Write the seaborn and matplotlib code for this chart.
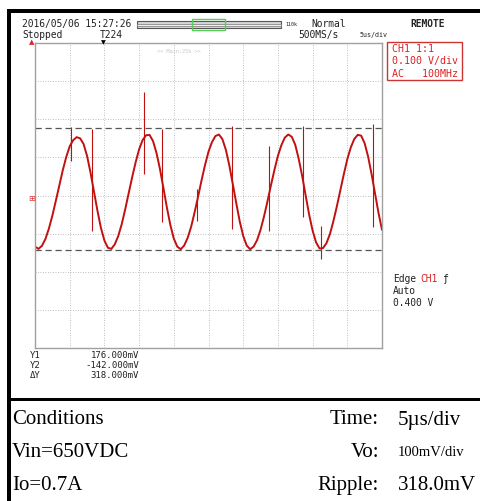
import numpy as np
import pandas as pd
import matplotlib
matplotlib.use('Agg')
import matplotlib.pyplot as plt
import seaborn as sns
from matplotlib.patches import Rectangle

# 示波器截图：输出纹波波形
sns.set_theme(style='white')
plt.rcParams['font.family'] = ['DejaVu Sans']

# 采样时间 (us) 与电压 (mV)，从截图上读出
t_us = [0.0, 0.5, 1.0, 1.5, 2.0, 2.5, 3.0, 3.5, 4.0, 4.5,
        5.0, 5.5, 6.0, 6.5, 7.0, 7.5, 8.0, 8.5, 9.0, 9.5,
        10.0, 10.5, 11.0, 11.5, 12.0, 12.5, 13.0, 13.5, 14.0, 14.5,
        15.0, 15.5, 16.0, 16.5, 17.0, 17.5, 18.0, 18.5, 19.0, 19.5,
        20.0, 20.5, 21.0, 21.5, 22.0, 22.5, 23.0, 23.5, 24.0, 24.5,
        25.0, 25.5, 26.0, 26.5, 27.0, 27.5, 28.0, 28.5, 29.0, 29.5,
        30.0, 30.5, 31.0, 31.5, 32.0, 32.5, 33.0, 33.5, 34.0, 34.5,
        35.0, 35.5, 36.0, 36.5, 37.0, 37.5, 38.0, 38.5, 39.0, 39.5,
        40.0, 40.5, 41.0, 41.5, 42.0, 42.5, 43.0, 43.5, 44.0, 44.5,
        45.0, 45.5, 46.0, 46.5, 47.0, 47.5, 48.0, 48.5, 49.0, 49.5,
        50.0]
v_mv = [-134, -140, -132, -114, -87, -53, -14, 26, 66, 101,
        129, 145, 153, 150, 135, 104, 60, 10, -40, -85,
        -118, -137, -140, -128, -106, -75, -36, 6, 48, 87,
        121, 145, 158, 159, 143, 112, 70, 20, -31, -77,
        -113, -134, -141, -131, -111, -82, -44, -3, 40, 80,
        115, 140, 156, 160, 148, 120, 79, 30, -20, -68,
        -106, -131, -141, -134, -117, -90, -55, -15, 27, 67,
        104, 132, 152, 160, 154, 133, 96, 51, 0, -50,
        -92, -123, -139, -138, -125, -101, -67, -28, 14, 56,
        95, 126, 148, 159, 157, 137, 102, 56, 5, -46,
        -90]

# 开关尖峰
spike_t = [5.2, 8.2, 15.7, 18.3, 23.3, 28.4, 33.7, 38.6, 41.2, 48.7]
spike_hi = [180, 175, 272, 175, 17, 182, 130, 182, -80, 188]
spike_lo = [90, -93, 56, -70, -67, -88, -93, -56, -167, -83]

# 光标
y1_mv = 176
y2_mv = -142
cursor_labels = ['Y1', 'Y2', 'ΔY']
cursor_values = ['176.000mV', '-142.000mV', '318.000mV']

# 底部条件表
cond_left = ['Conditions', 'Vin=650VDC', 'Io=0.7A']
cond_keys = ['Time:', 'Vo:', 'Ripple:']
cond_vals = ['5µs/div', '100mV/div', '318.0mV']

W, H = 480, 502
def fx(px):
    return px / W
def fy(py):
    return 1 - py / H

fig = plt.figure(figsize=(4.8, 5.02), dpi=100)
fig.patch.set_facecolor('white')

# 波形区
ax = fig.add_axes([fx(35), fy(349), (382 - 35) / W, (349 - 44) / H])
df = pd.DataFrame({'t': t_us, 'v': v_mv})
sns.lineplot(data=df, x='t', y='v', ax=ax, color='#c01010', lw=1.4)
ax.vlines(spike_t, spike_lo, spike_hi, color='#c01010', lw=0.8)
ax.axhline(y1_mv, color='#555555', ls=(0, (5, 3)), lw=0.9)
ax.axhline(y2_mv, color='#555555', ls=(0, (5, 3)), lw=0.9)
ax.set_xlim(0, 50)
ax.set_ylim(-400, 400)
ax.set_xticks(np.arange(0, 51, 5))
ax.set_yticks(np.arange(-400, 401, 100))
ax.grid(True, color='#a8a8a8', ls=(0, (1, 2)), lw=0.6)
ax.tick_params(length=0, labelleft=False, labelbottom=False)
ax.set_xlabel('')
ax.set_ylabel('')
for s in ax.spines.values():
    s.set_color('#a0a0a0')
    s.set_linewidth(1.0)
ax.text(0.415, 0.975, '<< Main:25k >>', transform=ax.transAxes, fontsize=3.8,
        color='#c8c8c8', ha='center', va='center', family='DejaVu Sans Mono')

# 外框
def frect(x0, y0, x1, y1, **kw):
    fig.add_artist(Rectangle((fx(x0), fy(y1)), (x1 - x0) / W, (y1 - y0) / H,
                             transform=fig.transFigure, **kw))

frect(7, 10, 480, 14, facecolor='black', edgecolor='none')
frect(7, 10, 11, 502, facecolor='black', edgecolor='none')
frect(7, 399, 480, 402, facecolor='black', edgecolor='none')

mono = 'DejaVu Sans Mono'
def mtext(x, y, s, size=6.9, color='#222222', **kw):
    fig.text(fx(x), fy(y), s, fontsize=size, color=color, family=mono,
             va='center', **kw)

# 顶部状态栏
mtext(22, 24, '2016/05/06 15:27:26')
mtext(22, 35, 'Stopped')
mtext(100, 35, 'T224')
mtext(311, 24, 'Normal')
mtext(298, 35, '500MS/s')
mtext(360, 35, '5us/div', size=4.8)
mtext(410, 24, 'REMOTE', weight='bold')
mtext(285, 25, '110k', size=3.6)
frect(137, 22, 281, 29, facecolor='#d6d6d6', edgecolor='#555555', lw=0.8)
frect(137, 24.5, 281, 26.5, facecolor='#f0f0f0', edgecolor='#777777', lw=0.5)
frect(192, 20, 225, 31, facecolor='none', edgecolor='#55cc55', lw=1.0)
fig.text(fx(32), fy(42), '▲', fontsize=5, color='#dd2222', ha='center', va='center')
fig.text(fx(103), fy(42.5), '▼', fontsize=4.5, color='black', ha='center', va='center')
fig.text(fx(32), fy(199), '⊞', fontsize=6, color='#dd3333', ha='center', va='center')

# 通道信息
frect(387, 43, 462, 81, facecolor='white', edgecolor='#cc3333', lw=1.0)
mtext(392, 49, 'CH1 1:1', size=7.2, color='#dd2222')
mtext(392, 61, '0.100 V/div', size=7.2, color='#dd2222')
mtext(392, 74, 'AC   100MHz', size=7.2, color='#dd2222')

# 触发
mtext(393, 279, 'Edge', size=6.9)
mtext(420, 279, 'CH1', size=6.9, color='#dd2222')
mtext(442, 279, 'ƒ', size=6.9)
mtext(393, 291, 'Auto', size=6.9)
mtext(393, 303, '0.400 V', size=6.9)

# 光标读数
for i, (lab, val) in enumerate(zip(cursor_labels, cursor_values)):
    yy = 356 + i * 10
    mtext(30, yy, lab, size=6.5)
    mtext(139, yy, val, size=6.5, ha='right')

# 条件表
serif = 'Liberation Serif'
for i in range(3):
    yy = 420 + i * 33
    fig.text(fx(12), fy(yy), cond_left[i], fontsize=15, family=serif,
             va='center', color='black')
    fig.text(fx(379), fy(yy), cond_keys[i], fontsize=15, family=serif,
             va='center', ha='right', color='black')
    fig.text(fx(398), fy(yy), cond_vals[i], fontsize=10.5 if i == 1 else 15,
             family=serif, va='center', color='black')

fig.savefig('out.png', dpi=100)
